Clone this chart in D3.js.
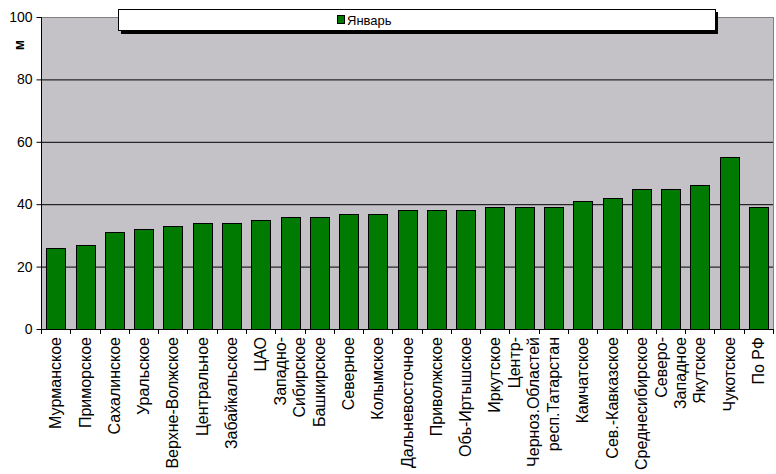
<!DOCTYPE html>
<html><head><meta charset="utf-8">
<script src="https://cdn.jsdelivr.net/npm/d3@7"></script>
<style>body{margin:0;background:#fff}svg{display:block}text{font-family:Arial,"Liberation Sans",sans-serif}</style>
</head><body>
<script>
const categories = [
  ["Мурманское"],["Приморское"],["Сахалинское"],["Уральское"],["Верхне-Волжское"],
  ["Центральное"],["Забайкальское"],["ЦАО"],["Западно-","Сибирское"],["Башкирское"],
  ["Северное"],["Колымское"],["Дальневосточное"],["Приволжское"],["Обь-Иртышское"],
  ["Иркутское"],["Центр-","Черноз.Областей"],["респ.Татарстан"],["Камчатское"],["Сев.-Кавказское"],
  ["Среднесибирское"],["Северо-","Западное"],["Якутское"],["Чукотское"],["По РФ"]
];
const seriesName = "Январь";
const values = [26,27,31,32,33,34,34,35,36,36,37,37,38,38,38,39,39,39,41,42,45,45,46,55,39];
const yTicks = [0,20,40,60,80,100];
const yTitle = "м";

const W=776,H=474;
const svg=d3.select("body").append("svg").attr("width",W).attr("height",H);
const L=41,R=773,T=17,B=329;
const idx=categories.map((d,i)=>i);
const x=d3.scaleBand().domain(idx).range([L,R]).paddingInner(0.36).paddingOuter(0.18);
const xb=d3.scaleBand().domain(idx).range([L,R]);
const y=d3.scaleLinear().domain([0,100]).range([B,T]);

svg.append("rect").attr("x",L).attr("y",T).attr("width",R-L).attr("height",B-T).attr("fill","#c4c2c6");
// gridlines
svg.selectAll(".grid").data(yTicks.filter(v=>v>0&&v<100)).enter().append("line")
  .attr("x1",L).attr("x2",R).attr("y1",d=>y(d)+0.5).attr("y2",d=>y(d)+0.5).attr("stroke","#000");
svg.append("line").attr("x1",L).attr("x2",R).attr("y1",T+0.5).attr("y2",T+0.5).attr("stroke","#808080");
svg.append("line").attr("x1",R+0.5).attr("x2",R+0.5).attr("y1",T).attr("y2",B).attr("stroke","#808080");

// bars
svg.selectAll(".bar").data(values).enter().append("rect")
  .attr("x",(d,i)=>Math.round(x(i))+0.5).attr("width",Math.round(x.bandwidth()))
  .attr("y",d=>Math.round(y(d))+0.5).attr("height",d=>B-Math.round(y(d)))
  .attr("fill","#007a00").attr("stroke","#000").attr("stroke-width",1);

// y axis
const ya=svg.append("g").attr("transform",`translate(${L+0.5},0)`)
  .call(d3.axisLeft(y).tickValues(yTicks).tickSize(5).tickPadding(4));
ya.select(".domain").attr("stroke","#000").attr("d",`M0,${T}V${B}`);
ya.selectAll("text").attr("font-size",14).attr("fill","#000").attr("font-family","Arial,'Liberation Sans',sans-serif");

// x axis
svg.append("line").attr("x1",L).attr("x2",R).attr("y1",B+0.5).attr("y2",B+0.5).attr("stroke","#000");
svg.selectAll(".xt").data(d3.range(categories.length+1)).enter().append("line")
  .attr("x1",d=>Math.round(L+d*xb.step())+0.5).attr("x2",d=>Math.round(L+d*xb.step())+0.5)
  .attr("y1",B).attr("y2",B+5).attr("stroke","#000");

const lab=svg.selectAll(".lab").data(categories).enter().append("g")
  .attr("transform",(d,i)=>`translate(${xb(i)+xb.bandwidth()/2},337) rotate(-90)`);
lab.each(function(lines){
  const g=d3.select(this);
  const n=lines.length, lh=19;
  lines.forEach((t,j)=>{
    const off=(j-(n-1)/2)*lh;
    g.append("text").attr("x",0).attr("y",off).attr("dy","0.35em")
      .attr("text-anchor","end").attr("font-size",16).attr("fill","#000").text(t);
  });
});

// y title
svg.append("text").attr("transform","translate(19,45) rotate(-90)")
  .attr("text-anchor","middle").attr("dy","0.35em").attr("font-weight","bold").attr("font-size",14).text(yTitle);

// legend
const lg=svg.append("g");
lg.append("rect").attr("x",121).attr("y",12).attr("width",597).attr("height",22).attr("fill","#000");
lg.append("rect").attr("x",118.5).attr("y",9.5).attr("width",597).attr("height",21).attr("fill","#fff").attr("stroke","#000");
lg.append("rect").attr("x",337.5).attr("y",15.5).attr("width",7).attr("height",8).attr("fill","#007a00").attr("stroke","#000");
lg.append("text").attr("x",347).attr("y",20).attr("dy","0.35em").attr("font-size",13).text(seriesName);
</script>
</body></html>
